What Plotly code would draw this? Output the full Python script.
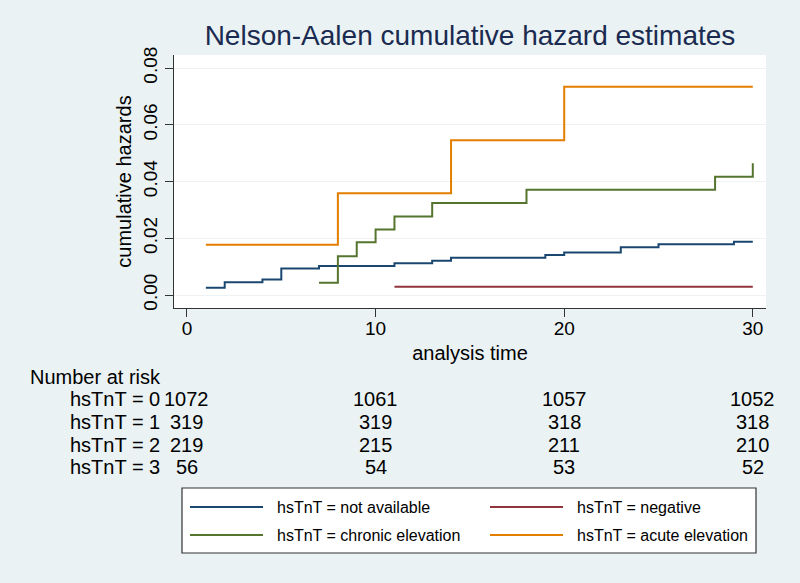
import plotly.graph_objects as go

# ---- data ----
t_na = [1, 2, 4, 5, 7, 11, 13, 14, 19, 20, 23, 25, 29, 30]
h_na = [0.0026, 0.0045, 0.0055, 0.0093, 0.0102, 0.0112, 0.0121, 0.0131, 0.0141, 0.0150, 0.0168, 0.0179, 0.0188, 0.0188]

t_neg = [11, 30]
h_neg = [0.0029, 0.0029]

t_chr = [7, 8, 9, 10, 11, 13, 18, 28, 30]
h_chr = [0.0043, 0.0137, 0.0186, 0.0231, 0.0277, 0.0324, 0.0371, 0.0417, 0.0464]

t_acu = [1, 8, 14, 20, 30]
h_acu = [0.0177, 0.0359, 0.0545, 0.0734, 0.0734]

series_names = ["hsTnT = not available", "hsTnT = negative",
                "hsTnT = chronic elevation", "hsTnT = acute elevation"]
series_colors = ["#1A476F", "#90353B", "#55752F", "#E37E00"]

risk_times = [0, 10, 20, 30]
risk_labels = ["hsTnT = 0", "hsTnT = 1", "hsTnT = 2", "hsTnT = 3"]
risk_0 = [1072, 1061, 1057, 1052]
risk_1 = [319, 319, 318, 318]
risk_2 = [219, 215, 211, 210]
risk_3 = [56, 54, 53, 52]

x_ticks = [0, 10, 20, 30]
y_ticks = [0.00, 0.02, 0.04, 0.06, 0.08]
y_ticklabels = ["0.00", "0.02", "0.04", "0.06", "0.08"]

FONT = "Liberation Sans, Arial, Helvetica, sans-serif"
BG = "#EAF2F3"

fig = go.Figure()
for t, h, name, col in zip([t_na, t_neg, t_chr, t_acu], [h_na, h_neg, h_chr, h_acu],
                           series_names, series_colors):
    fig.add_trace(go.Scatter(x=t, y=h, mode="lines", line=dict(shape="hv", color=col, width=2),
                             name=name, showlegend=False, hoverinfo="skip"))

# plot-area geometry in pixels (for paper coordinates)
PL, PR, PT, PB = 174, 766, 55, 308
def px(x):
    return (x - PL) / (PR - PL)
def py(y):
    return (PB - y) / (PB - PT)

annotations = []
shapes = []

# Number at risk table
annotations.append(dict(text="Number at risk", xref="paper", yref="paper", x=px(28), y=py(377),
                        xanchor="left", yanchor="middle", showarrow=False,
                        font=dict(family=FONT, size=20, color="black")))
row_y = [399, 422, 445, 467]
for lab, vals, ry in zip(risk_labels, [risk_0, risk_1, risk_2, risk_3], row_y):
    annotations.append(dict(text=lab, xref="paper", yref="paper", x=px(68), y=py(ry),
                            xanchor="left", yanchor="middle", showarrow=False,
                            font=dict(family=FONT, size=20, color="black")))
    for t, v in zip(risk_times, vals):
        annotations.append(dict(text=str(v), xref="x", yref="paper", x=t, y=py(ry),
                                xanchor="center", yanchor="middle", showarrow=False,
                                font=dict(family=FONT, size=20, color="black")))

# Legend box (drawn)
shapes.append(dict(type="rect", xref="paper", yref="paper", x0=px(182), x1=px(756),
                   y0=py(553), y1=py(488), line=dict(color="#333333", width=1.2), fillcolor="white",
                   layer="below"))
leg_pos = [(190, 263, 275, 507), (490, 563, 575, 507), (190, 263, 275, 535), (490, 563, 575, 535)]
for (lx0, lx1, tx, ly), name, col in zip(leg_pos, series_names, series_colors):
    shapes.append(dict(type="line", xref="paper", yref="paper", x0=px(lx0), x1=px(lx1),
                       y0=py(ly), y1=py(ly), line=dict(color=col, width=2)))
    annotations.append(dict(text=name, xref="paper", yref="paper", x=px(tx), y=py(ly),
                            xanchor="left", yanchor="middle", showarrow=False,
                            font=dict(family=FONT, size=16, color="black")))

fig.update_layout(
    width=800, height=583,
    paper_bgcolor=BG, plot_bgcolor="white",
    margin=dict(l=PL, r=800 - PR, t=PT, b=583 - PB),
    title=dict(text="Nelson-Aalen cumulative hazard estimates", x=0.5, xref="paper",
               y=1 - 35 / 583, yref="container", yanchor="middle", xanchor="center",
               font=dict(family=FONT, size=28, color="#1a2a50")),
    showlegend=False,
    annotations=annotations,
    shapes=shapes,
    font=dict(family=FONT, color="black"),
)
fig.update_xaxes(range=[-0.689, 30.70], tickvals=x_ticks, ticks="outside", ticklen=8, tickwidth=1.2,
                 tickcolor="#333333", showline=True, linecolor="#333333", linewidth=1.2,
                 showgrid=False, zeroline=False, ticklabelstandoff=-5,
                 tickfont=dict(family=FONT, size=19, color="black"),
                 title=dict(text="analysis time", font=dict(family=FONT, size=20, color="black"),
                            standoff=8))
fig.update_yaxes(range=[-0.00458, 0.08458], tickvals=y_ticks, ticktext=y_ticklabels,
                 tickangle=-90, ticks="outside", ticklen=8, tickwidth=1.2, tickcolor="#333333",
                 showline=True, linecolor="#333333", linewidth=1.2,
                 showgrid=True, gridcolor="#EEF2F2", gridwidth=1, zeroline=False,
                 tickfont=dict(family=FONT, size=19, color="black"),
                 title=dict(text="cumulative hazards", font=dict(family=FONT, size=20, color="black"),
                            standoff=3))

fig.write_html("out.html", config={"displayModeBar": False},
               post_script="document.body.style.margin='0';document.body.style.overflow='hidden';")
